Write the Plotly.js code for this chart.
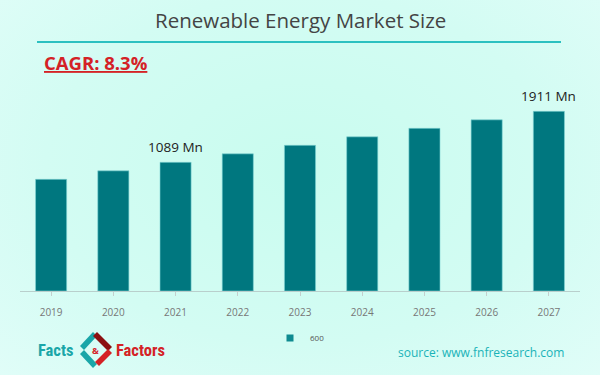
<!DOCTYPE html>
<html>
<head>
<meta charset="utf-8">
<script src="https://cdn.plot.ly/plotly-3.0.1.min.js"></script>
<style>
html,body{margin:0;padding:0;}
body{width:600px;height:375px;background:radial-gradient(ellipse at 50% 45%, #c9fcef 0%, #d3fcf3 60%, #e0fdf8 100%);}
#chart{width:600px;height:375px;}
</style>
</head>
<body>
<div id="chart"></div>
<script>
// Data
const years = ['2019','2020','2021','2022','2023','2024','2025','2026','2027'];
const marketSize = [815, 952, 1089, 1226, 1363, 1500, 1637, 1774, 1911];
const seriesName = '600';
const labelYears = ['2021','2027'];
const labelTexts = ['1089 Mn','1911 Mn'];
const titleText = 'Renewable Energy Market Size';
const cagrText = 'CAGR: 8.3%';
const sourceText = 'source: www.fnfresearch.com';

// value axis of the reference is truncated: bars start at this floor
const yFloor = -985, yTop = 2416;

// pixel helpers for paper coordinates (plot area: x 20..580, y 80..291)
const L = 20, R = 580, T = 80, B = 291;
const px = x => (x - L) / (R - L);
const py = y => (B - y) / (B - T);

const annotations = labelYears.map((yr, i) => ({
  x: years.indexOf(yr), y: marketSize[years.indexOf(yr)], xref: 'x', yref: 'y',
  text: labelTexts[i], showarrow: false, yanchor: 'bottom', yshift: 4,
  font: {family: 'Open Sans, sans-serif', size: 13.5, color: '#222'}
}));
annotations.push({
  x: 0.5, y: py(20), xref: 'paper', yref: 'paper', text: titleText, showarrow: false,
  font: {family: 'Open Sans, sans-serif', size: 20.5, color: '#444'}, yanchor: 'middle'
});
annotations.push({
  x: px(42), y: py(63), xref: 'paper', yref: 'paper', text: '<u><b>' + cagrText + '</b></u>', showarrow: false,
  xanchor: 'left', yanchor: 'middle',
  font: {family: 'Open Sans, sans-serif', size: 18.5, color: '#d42226'}
});
annotations.push({
  x: px(566), y: py(352), xref: 'paper', yref: 'paper', text: sourceText, showarrow: false,
  xanchor: 'right', yanchor: 'middle',
  font: {family: 'Open Sans, sans-serif', size: 12, color: '#19b3b8'}
});
annotations.push({
  x: px(76), y: py(350), xref: 'paper', yref: 'paper', text: '<b>Facts</b>', showarrow: false,
  xanchor: 'right', yanchor: 'middle',
  font: {family: 'Liberation Sans Narrow, Roboto Condensed, Roboto, sans-serif', size: 16.5, color: '#1aa6a8'}
});
annotations.push({
  x: px(114), y: py(350), xref: 'paper', yref: 'paper', text: '<b>Factors</b>', showarrow: false,
  xanchor: 'left', yanchor: 'middle',
  font: {family: 'Liberation Sans Narrow, Roboto Condensed, Roboto, sans-serif', size: 16.5, color: '#d42226'}
});
annotations.push({
  x: px(95), y: py(350), xref: 'paper', yref: 'paper', text: '<b>&</b>', showarrow: false,
  xanchor: 'center', yanchor: 'middle',
  font: {family: 'Open Sans, sans-serif', size: 9, color: '#d42226'}
});

function pathP(pts){
  return 'M' + pts.map(p => px(p[0]) + ',' + py(p[1])).join(' L') + ' Z';
}
const shapes = [
  {type: 'line', xref: 'paper', yref: 'paper', x0: px(37), x1: px(561), y0: py(42), y1: py(42),
   line: {color: '#2cc0c0', width: 2}},
  {type: 'path', xref: 'paper', yref: 'paper', path: pathP([[93,332],[80,346],[84,350],[97,336]]),
   fillcolor: '#1aa6a8', line: {width: 0}},
  {type: 'path', xref: 'paper', yref: 'paper', path: pathP([[84,350],[97,364],[93,368],[80,354]]),
   fillcolor: '#1aa6a8', line: {width: 0}},
  {type: 'path', xref: 'paper', yref: 'paper', path: pathP([[97,332],[112,347],[108,351],[93,336]]),
   fillcolor: '#8b1010', line: {width: 0}},
  {type: 'path', xref: 'paper', yref: 'paper', path: pathP([[108,349],[95,362],[99,366],[112,353]]),
   fillcolor: '#d42226', line: {width: 0}}
];

const barColor = '#00777f';
const trace = {
  type: 'bar', x: years, base: yFloor, y: marketSize.map(v => v - yFloor), name: seriesName,
  marker: {color: barColor, line: {color: '#7fd3d3', width: 0.6}},
  showlegend: false, hoverinfo: 'skip'
};
// legend-only entry with a small square symbol
const legendEntry = {
  type: 'scatter', mode: 'markers', x: [null], y: [null], name: seriesName,
  marker: {symbol: 'square', size: 7, color: '#0e8a90'}, showlegend: true, hoverinfo: 'skip'
};

const layout = {
  width: 600, height: 375,
  margin: {l: L, r: 600 - R, t: T, b: 375 - B, pad: 0},
  paper_bgcolor: 'rgba(0,0,0,0)', plot_bgcolor: 'rgba(0,0,0,0)',
  bargap: 0.5,
  xaxis: {
    type: 'category', categoryorder: 'array', categoryarray: years, range: [-0.5, years.length - 0.5],
    showgrid: false, showline: true, linecolor: '#b9cfcc', linewidth: 1,
    ticks: 'outside', ticklen: 4, tickcolor: '#c4cfcd', tickwidth: 1,
    ticklabelstandoff: 8,
    tickfont: {family: 'Open Sans, sans-serif', size: 10, color: '#777'},
    fixedrange: true
  },
  yaxis: {visible: false, range: [yFloor, yTop], fixedrange: true},
  showlegend: true,
  legend: {orientation: 'h', x: 0.5, xanchor: 'center', y: py(338), yanchor: 'middle',
    itemwidth: 30,
    font: {family: 'Open Sans, sans-serif', size: 8, color: '#555'}, bgcolor: 'rgba(0,0,0,0)'},
  annotations: annotations,
  shapes: shapes
};

Plotly.newPlot('chart', [trace, legendEntry], layout, {displayModeBar: false, staticPlot: true});
</script>
</body>
</html>
